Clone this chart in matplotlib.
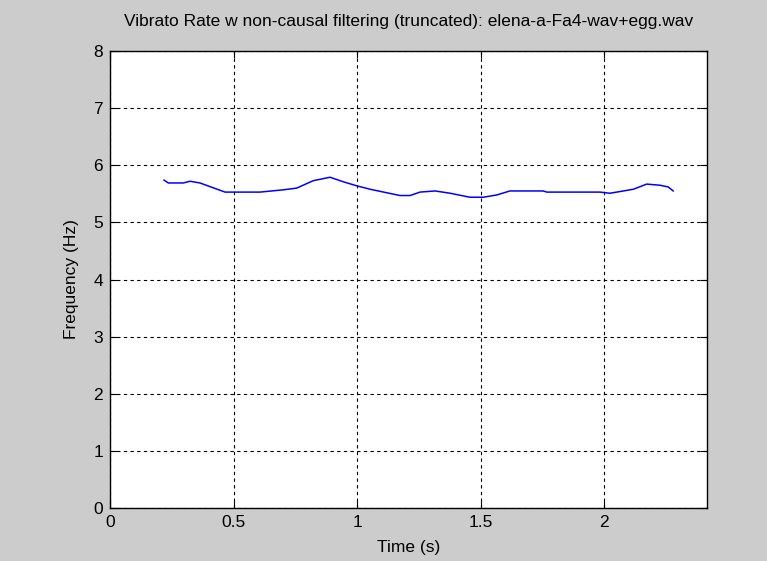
import matplotlib.pyplot as plt

# vibrato rate track
t = [0.219, 0.236, 0.297, 0.324, 0.364, 0.466, 0.607, 0.702, 0.756, 0.823,
     0.891, 0.945, 0.999, 1.053, 1.174, 1.215, 1.255, 1.316, 1.377, 1.457,
     1.511, 1.566, 1.619, 1.754, 1.768, 1.984, 2.024, 2.065, 2.119, 2.173,
     2.227, 2.260, 2.280]
rate = [5.74, 5.69, 5.69, 5.72, 5.69, 5.53, 5.53, 5.57, 5.60, 5.73,
        5.79, 5.71, 5.64, 5.58, 5.47, 5.47, 5.53, 5.55, 5.51, 5.44,
        5.44, 5.48, 5.55, 5.55, 5.53, 5.53, 5.51, 5.54, 5.58, 5.67,
        5.65, 5.62, 5.55]

xticks = [0, 0.5, 1, 1.5, 2]
xticklabels = ['0', '0.5', '1', '1.5', '2']
yticks = [0, 1, 2, 3, 4, 5, 6, 7, 8]

plt.rcParams['font.family'] = ['Liberation Sans', 'DejaVu Sans']

fig = plt.figure(figsize=(7.67, 5.61), dpi=100, facecolor='#cccccc')
ax = fig.add_axes([110/767, 1 - 508/561, 597/767, 457/561])
ax.set_facecolor('white')

ax.plot(t, rate, color='#0000ff', lw=1.1)

ax.set_xlim(0, 2.417)
ax.set_ylim(0, 8)
ax.set_xticks(xticks)
ax.set_xticklabels(xticklabels)
ax.set_yticks(yticks)
ax.tick_params(direction='in', top=True, right=True, length=5, width=0.8,
               labelsize=12.5, colors='black', pad=5)
ax.grid(True, color='black', linestyle=(0, (3, 3)), lw=0.8)
for s in ax.spines.values():
    s.set_linewidth(1.0)

ax.set_title('Vibrato Rate w non-causal filtering (truncated): elena-a-Fa4-wav+egg.wav',
             fontsize=12.5, pad=18)
ax.set_xlabel('Time (s)', fontsize=12.5, labelpad=7)
ax.set_ylabel('Frequency (Hz)', fontsize=12.5, labelpad=10)

fig.savefig('out.png', dpi=100, facecolor=fig.get_facecolor())
